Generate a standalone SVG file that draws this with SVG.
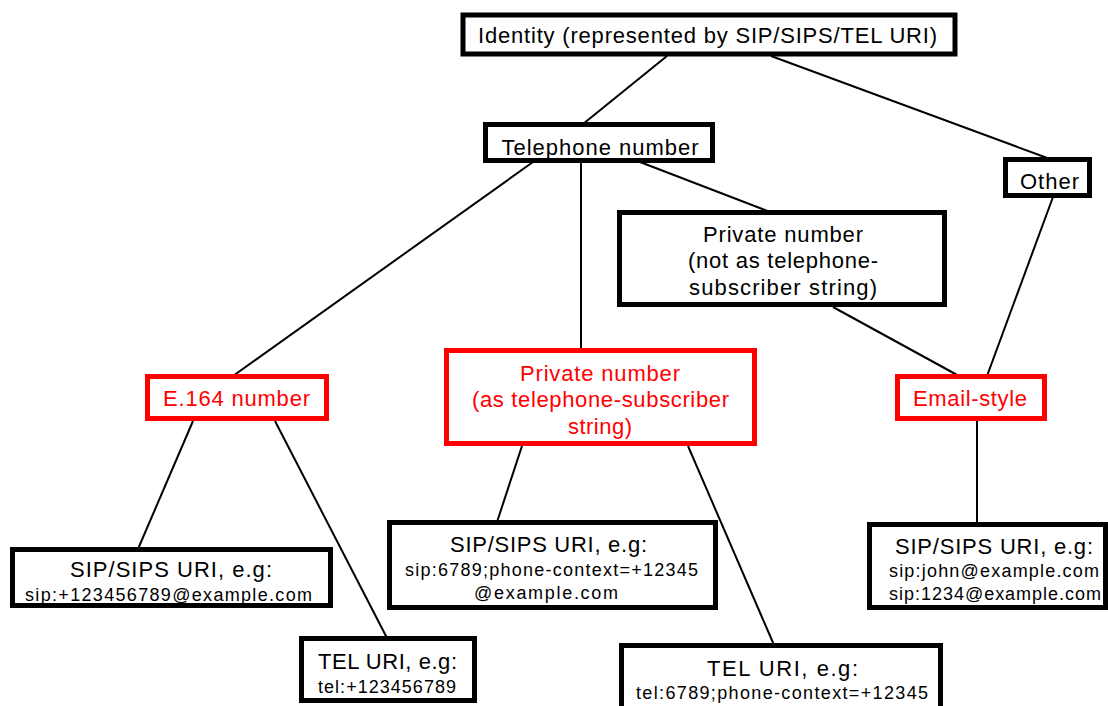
<svg xmlns="http://www.w3.org/2000/svg" width="1108" height="706" viewBox="0 0 1108 706">
<style>
.box{fill:#fff;stroke:#000;stroke-width:5}
.red{fill:#fff;stroke:#f00;stroke-width:5}
.t{font-family:"Liberation Sans",Arial,sans-serif;font-size:22px;fill:#000;text-anchor:middle}
.s{font-family:"Liberation Sans",Arial,sans-serif;font-size:18px;fill:#000;text-anchor:middle}
.rt{fill:#f00}
.c line{stroke:#000;stroke-width:2}
</style>
<rect width="1108" height="706" fill="#fff"/>
<g class="c" id="connectors">
<line x1="667" y1="56" x2="583" y2="124"/>
<line x1="771" y1="56" x2="1050" y2="159"/>
<line x1="533" y1="162" x2="233" y2="376"/>
<line x1="581" y1="162" x2="581" y2="350"/>
<line x1="640" y1="162" x2="770" y2="212"/>
<line x1="833" y1="307" x2="959" y2="376"/>
<line x1="1053" y1="197" x2="987" y2="376"/>
<line x1="193" y1="421" x2="138" y2="549"/>
<line x1="275" y1="421" x2="387" y2="638"/>
<line x1="522" y1="446" x2="497" y2="522"/>
<line x1="688" y1="446" x2="774" y2="645"/>
<line x1="977" y1="421" x2="977" y2="524"/>
</g>
<g id="identity"><rect class="box" x="463" y="15" width="492" height="39"/><text class="t" x="707.5" y="43" textLength="459" lengthAdjust="spacing">Identity (represented by SIP/SIPS/TEL URI)</text></g>
<g id="telephone"><rect class="box" x="485.5" y="124.5" width="227" height="36"/><text class="t" x="600" y="155" textLength="197" lengthAdjust="spacing">Telephone number</text></g>
<g id="other"><rect class="box" x="1005.5" y="159.5" width="84" height="36"/><text class="t" x="1049.5" y="189" textLength="59" lengthAdjust="spacing">Other</text></g>
<g id="private-not"><rect class="box" x="619.5" y="212.5" width="325" height="92"/><text class="t" x="783" y="242" textLength="160" lengthAdjust="spacing">Private number</text><text class="t" x="783" y="268" textLength="190" lengthAdjust="spacing">(not as telephone-</text><text class="t" x="783" y="295" textLength="188" lengthAdjust="spacing">subscriber string)</text></g>
<g id="e164"><rect class="red" x="147.5" y="376.5" width="179" height="42"/><text class="t rt" x="236.5" y="406" textLength="147" lengthAdjust="spacing">E.164 number</text></g>
<g id="private-as"><rect class="red" x="446.5" y="350.5" width="308" height="93"/><text class="t rt" x="600" y="381" textLength="160" lengthAdjust="spacing">Private number</text><text class="t rt" x="600.5" y="407" textLength="257" lengthAdjust="spacing">(as telephone-subscriber</text><text class="t rt" x="600" y="434" textLength="64" lengthAdjust="spacing">string)</text></g>
<g id="email"><rect class="red" x="897.5" y="376.5" width="147" height="42"/><text class="t rt" x="970" y="406" textLength="114" lengthAdjust="spacing">Email-style</text></g>
<g id="sip-left"><rect class="box" x="12.5" y="549.5" width="318" height="56"/><text class="t" x="171" y="577" textLength="202" lengthAdjust="spacing">SIP/SIPS URI, e.g:</text><text class="s" x="168.5" y="601" textLength="287" lengthAdjust="spacing">sip:+123456789@example.com</text></g>
<g id="tel-left"><rect class="box" x="301.5" y="638.5" width="173" height="62"/><text class="t" x="387.5" y="669" textLength="139" lengthAdjust="spacing">TEL URI, e.g:</text><text class="s" x="387" y="693" textLength="138" lengthAdjust="spacing">tel:+123456789</text></g>
<g id="sip-mid"><rect class="box" x="389.5" y="522.5" width="326" height="85"/><text class="t" x="548.5" y="552" textLength="197" lengthAdjust="spacing">SIP/SIPS URI, e.g:</text><text class="s" x="551.5" y="576" textLength="293" lengthAdjust="spacing">sip:6789;phone-context=+12345</text><text class="s" x="546" y="599" textLength="144" lengthAdjust="spacing">@example.com</text></g>
<g id="tel-mid"><rect class="box" x="621.5" y="645.5" width="319" height="70"/><text class="t" x="782.5" y="676" textLength="151" lengthAdjust="spacing">TEL URI, e.g:</text><text class="s" x="782" y="699" textLength="292" lengthAdjust="spacing">tel:6789;phone-context=+12345</text></g>
<g id="sip-right"><rect class="box" x="869.5" y="524.5" width="236" height="83"/><text class="t" x="994" y="554" textLength="198" lengthAdjust="spacing">SIP/SIPS URI, e.g:</text><text class="s" x="994" y="577" textLength="210" lengthAdjust="spacing">sip:john@example.com</text><text class="s" x="995" y="600" textLength="212" lengthAdjust="spacing">sip:1234@example.com</text></g>
</svg>
